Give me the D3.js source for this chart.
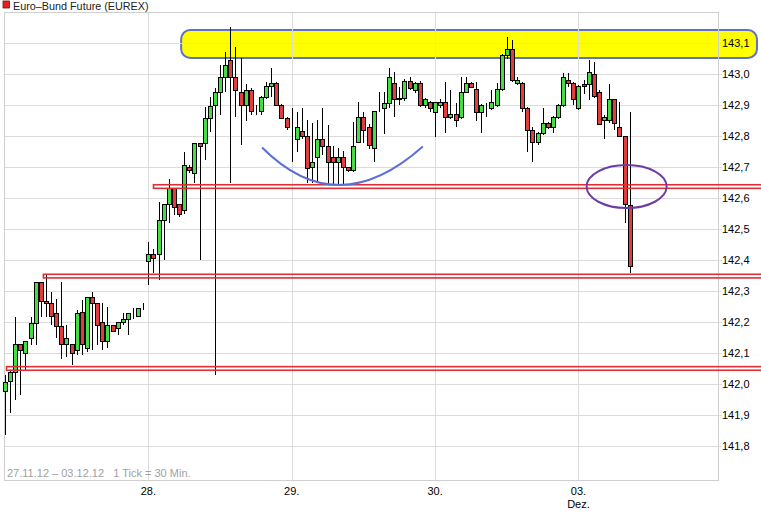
<!DOCTYPE html>
<html><head><meta charset="utf-8">
<script src="https://cdn.jsdelivr.net/npm/d3@7"></script>
<style>
body{margin:0;background:#fff}
svg{display:block}
text{font-family:"Liberation Sans",Arial,sans-serif}
</style>
</head><body>
<svg id="c" width="761" height="513"></svg>
<script>
// ---- data (30-minute candles, 28 per trading day) ----
const dayLabels = ["28.", "29.", "30.", "03."];
const dayStart = [28, 56, 84, 112];
const monthLabel = "Dez.";
const yTicks = [141.8,141.9,142.0,142.1,142.2,142.3,142.4,142.5,142.6,142.7,142.8,142.9,143.0,143.1];

const open = [
 141.978,142.009,142.038,142.129,142.100,142.148,142.199,142.329,142.270,142.261,142.229,142.189,142.129,142.129,142.111,142.234,142.116,142.281,142.261,142.200,142.140,142.191,142.181,142.200,142.210,142.218,142.220,142.247,
 142.398,142.419,142.419,142.530,142.581,142.632,142.581,142.562,142.700,142.682,142.779,142.779,142.860,142.901,142.944,142.990,143.045,142.992,142.944,142.901,142.949,142.882,142.882,142.928,142.962,142.971,142.901,142.860,
 142.797,142.790,142.818,142.801,142.700,142.732,142.790,142.768,142.734,142.718,142.732,142.700,142.691,142.783,142.861,142.831,142.761,142.890,142.890,142.909,142.971,142.919,142.925,142.980,142.950,142.971,142.901,142.912,
 142.880,142.901,142.912,142.861,142.871,142.861,142.944,142.971,142.952,142.880,142.890,142.890,142.901,142.952,143.062,143.081,142.971,142.971,142.890,142.820,142.781,142.810,142.842,142.831,142.861,142.901,142.982,142.971,
 142.890,142.970,142.970,143.001,142.944,142.852,142.852,142.919,142.831,142.801,142.578
];
const high = [
 142.030,142.046,142.218,142.129,142.140,142.218,142.329,142.329,142.356,142.299,142.274,142.329,142.191,142.129,142.240,142.272,142.281,142.299,142.261,142.261,142.250,142.191,142.200,142.229,142.229,142.245,142.247,142.261,
 142.460,142.438,142.589,142.581,142.661,142.632,142.581,142.750,142.709,142.779,142.779,142.895,142.927,142.955,143.030,143.073,143.153,143.089,143.052,142.970,142.955,142.900,142.930,142.975,143.019,142.975,142.905,142.862,
 142.890,142.880,142.890,142.852,142.842,142.852,142.890,142.836,142.768,142.761,142.754,142.700,142.847,142.912,142.879,142.840,142.883,142.944,142.944,143.022,143.008,142.960,142.985,142.990,142.975,142.980,142.925,142.915,
 142.912,142.920,142.976,142.949,142.906,142.992,142.992,142.975,142.976,142.905,142.906,142.949,142.971,143.065,143.122,143.111,142.990,142.975,142.895,142.830,142.815,142.890,142.845,142.865,142.905,143.003,143.003,142.975,
 142.965,142.981,143.046,143.040,142.951,142.870,142.970,142.919,142.911,142.801,142.879
];
const low = [
 141.836,141.906,141.949,141.966,142.046,142.127,142.127,142.218,142.218,142.191,142.150,142.082,142.089,142.062,142.095,142.095,142.105,142.111,142.127,142.111,142.116,142.172,142.159,142.191,142.159,142.210,142.220,142.240,
 142.320,142.358,142.336,142.401,142.519,142.546,142.540,142.551,142.682,142.648,142.401,142.723,142.815,142.030,142.869,142.944,142.648,142.863,142.772,142.850,142.869,142.870,142.869,142.920,142.928,142.900,142.855,142.820,
 142.718,142.750,142.790,142.648,142.648,142.648,142.740,142.643,142.643,142.643,142.643,142.686,142.686,142.777,142.777,142.760,142.718,142.880,142.809,142.890,142.863,142.900,142.915,142.950,142.940,142.895,142.890,142.880,
 142.799,142.890,142.810,142.855,142.831,142.855,142.940,142.955,142.850,142.810,142.863,142.885,142.895,142.945,143.050,142.975,142.965,142.880,142.751,142.718,142.772,142.805,142.825,142.810,142.855,142.895,142.960,142.900,
 142.885,142.938,142.917,142.925,142.835,142.790,142.844,142.820,142.801,142.519,142.358
];
const close = [
 142.008,142.038,142.129,142.111,142.140,142.199,142.329,142.270,142.261,142.220,142.189,142.129,142.148,142.100,142.229,142.129,142.281,142.261,142.191,142.140,142.191,142.172,142.200,142.210,142.229,142.218,142.247,142.247,
 142.419,142.409,142.530,142.581,142.632,142.573,142.551,142.709,142.691,142.779,142.769,142.860,142.897,142.944,142.990,143.030,142.992,142.949,142.901,142.949,142.882,142.882,142.928,142.962,142.971,142.901,142.860,142.831,
 142.797,142.831,142.801,142.697,142.718,142.790,142.768,142.718,142.718,142.732,142.700,142.691,142.770,142.861,142.820,142.772,142.883,142.890,142.909,142.990,142.919,142.925,142.980,142.955,142.971,142.901,142.919,142.890,
 142.912,142.912,142.861,142.871,142.853,142.944,142.971,142.960,142.880,142.901,142.890,142.912,142.952,143.062,143.081,142.982,142.982,142.890,142.820,142.781,142.810,142.842,142.831,142.861,142.901,142.990,142.971,142.919,
 142.962,142.962,143.008,142.930,142.841,142.863,142.919,142.844,142.801,142.581,142.381
];

// annotations (drawn by the analyst)
const levelValues = [142.638, 142.349, 142.051];
const levelStartIndex = [29, 7.5, 0.3];
const zoneRange = [143.053, 143.143];     // yellow resistance zone
const zoneStartIndex = 34.4;
const arcIndex = [50.2, 65.4, 81.6];
const arcValue = [142.764, 142.643, 142.767];
const ellipseCenter = {index: 121.4, value: 142.638};

// ---- layout ----
const W = 761, H = 513;
const plot = {left: 5, right: 718, top: 12.7, bottom: 480};
const svg = d3.select("#c");

const x = d3.scaleLinear().domain([0, 139.25]).range([plot.left, plot.right]);
const y = d3.scaleLinear().domain([141.691, 143.199]).range([plot.bottom, plot.top]);
const loc = d3.formatLocale({decimal: ",", thousands: ".", grouping: [3], currency: ["", "€"]});
const fmt = loc.format(".1f");

// yellow zone (behind grid)
svg.append("rect")
  .attr("x", x(zoneStartIndex)).attr("y", y(zoneRange[1]))
  .attr("width", 757 - x(zoneStartIndex)).attr("height", y(zoneRange[0]) - y(zoneRange[1]))
  .attr("rx", 9).attr("ry", 9)
  .attr("fill", "#ffff00").attr("stroke", "#6172c4").attr("stroke-width", 2);

// grid
const g = svg.append("g").attr("shape-rendering", "crispEdges");
g.selectAll(".hg").data(yTicks).join("line")
  .attr("x1", plot.left).attr("x2", plot.right)
  .attr("y1", d => Math.round(y(d)) + 0.5).attr("y2", d => Math.round(y(d)) + 0.5)
  .attr("stroke", "#dcdcdc");
g.selectAll(".vg").data(dayStart).join("line")
  .attr("x1", d => Math.round(x(d)) + 0.5).attr("x2", d => Math.round(x(d)) + 0.5)
  .attr("y1", plot.top).attr("y2", plot.bottom)
  .attr("stroke", "#dcdcdc");
// frame
g.append("rect").attr("x", 4.5).attr("y", 12.5).attr("width", plot.right - 4.5).attr("height", plot.bottom - 12.5)
  .attr("fill", "none").attr("stroke", "#cfcfcf");
// right axis ticks
g.selectAll(".tk").data(yTicks).join("line")
  .attr("x1", plot.right).attr("x2", plot.right + 4)
  .attr("y1", d => Math.round(y(d)) + 0.5).attr("y2", d => Math.round(y(d)) + 0.5)
  .attr("stroke", "#dcdcdc");

// candles
const candles = d3.range(open.length).map(i => ({i, o: open[i], h: high[i], l: low[i], c: close[i]}));
const cg = svg.append("g").attr("shape-rendering", "crispEdges");
const cx = d => Math.round(x(d.i)) + 0.5;
cg.selectAll(".wick").data(candles).join("line")
  .attr("x1", cx).attr("x2", cx)
  .attr("y1", d => y(d.h)).attr("y2", d => y(d.l))
  .attr("stroke", "#000");
cg.selectAll(".body").data(candles).join("rect")
  .attr("x", d => cx(d) - 2)
  .attr("y", d => Math.round(y(Math.max(d.o, d.c))) + 0.5)
  .attr("width", 4)
  .attr("height", d => Math.max(0, Math.round(y(Math.min(d.o, d.c))) - Math.round(y(Math.max(d.o, d.c)))))
  .attr("fill", d => d.c > d.o ? "#44dd44" : "#e23c3c")
  .attr("stroke", "#000");

// horizontal support/resistance double lines
svg.selectAll(".lvl").data(levelValues).join("rect")
  .attr("x", (d, k) => x(levelStartIndex[k]))
  .attr("y", d => y(d) - 1.8)
  .attr("width", (d, k) => W + 5 - x(levelStartIndex[k]))
  .attr("height", 3.6)
  .attr("fill", "none").attr("stroke", "#df2f35").attr("stroke-width", 1.6);

// blue rounding-bottom arc
const p0 = [x(arcIndex[0]), y(arcValue[0])], pm = [x(arcIndex[1]), y(arcValue[1])], p2 = [x(arcIndex[2]), y(arcValue[2])];
const ctrl = [2 * pm[0] - (p0[0] + p2[0]) / 2, 2 * pm[1] - (p0[1] + p2[1]) / 2];
const ap = d3.path(); ap.moveTo(p0[0], p0[1]); ap.quadraticCurveTo(ctrl[0], ctrl[1], p2[0], p2[1]);
svg.append("path").attr("d", ap.toString()).attr("fill", "none")
  .attr("stroke", "#5b6fd6").attr("stroke-width", 2);

// purple ellipse
svg.append("ellipse")
  .attr("cx", x(ellipseCenter.index)).attr("cy", y(ellipseCenter.value))
  .attr("rx", 40).attr("ry", 21.5)
  .attr("fill", "none").attr("stroke", "#6a3fa5").attr("stroke-width", 2);

// right axis labels
svg.selectAll(".yl").data(yTicks).join("text")
  .attr("x", 722).attr("y", d => y(d) + 4)
  .attr("font-size", 11).attr("fill", "#000")
  .text(d => fmt(d));

// x labels
svg.selectAll(".xl").data(dayStart).join("text")
  .attr("x", d => x(d)).attr("y", 495)
  .attr("text-anchor", "middle").attr("font-size", 11).attr("fill", "#000")
  .text((d, k) => dayLabels[k]);
svg.append("text").attr("x", x(dayStart[3])).attr("y", 508)
  .attr("text-anchor", "middle").attr("font-size", 11).attr("fill", "#000").text(monthLabel);

// title
svg.append("rect").attr("x", 3).attr("y", 1).attr("width", 6.5).attr("height", 7)
  .attr("fill", "#e52222").attr("stroke", "#7a1010").attr("stroke-width", 0.8);
svg.append("text").attr("x", 13).attr("y", 9.5).attr("font-size", 10.8).attr("fill", "#222")
  .text("Euro\u2013Bund Future (EUREX)");

// footer
svg.append("text").attr("x", 7).attr("y", 477).attr("font-size", 11).attr("fill", "#a0a0a0")
  .attr("xml:space", "preserve")
  .text("27.11.12 \u2013 03.12.12   1 Tick = 30 Min.");
</script>
</body></html>
